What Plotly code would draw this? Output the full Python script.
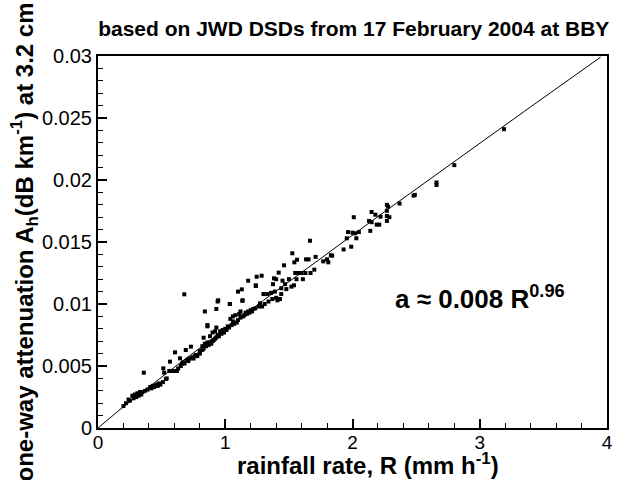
import plotly.graph_objects as go

# rainfall rate R (mm/h) and one-way attenuation A_h (dB/km)
rain_rate = [
    0.20, 0.22, 0.24, 0.25, 0.27, 0.28, 0.29, 0.30, 0.31, 0.32, 0.33, 0.34, 0.35, 0.36, 0.37,
    0.39, 0.41, 0.42, 0.43, 0.44, 0.45, 0.46, 0.47, 0.48, 0.49, 0.51, 0.513, 0.52, 0.534, 0.54,
    0.56, 0.566, 0.58, 0.60, 0.605, 0.62, 0.63, 0.644, 0.65, 0.66, 0.67, 0.678, 0.68, 0.69, 0.70,
    0.71, 0.72, 0.73, 0.74, 0.75, 0.76, 0.77, 0.78, 0.80, 0.80, 0.82, 0.83, 0.83, 0.84, 0.84,
    0.85, 0.86, 0.86, 0.87, 0.88, 0.89, 0.90, 0.90, 0.91, 0.92, 0.93, 0.93, 0.94, 0.94, 0.95,
    0.96, 0.97, 0.98, 0.99, 1.00, 1.01, 1.02, 1.03, 1.035, 1.04, 1.05, 1.06, 1.07, 1.08, 1.09,
    1.10, 1.10, 1.11, 1.12, 1.13, 1.134, 1.14, 1.15, 1.16, 1.17, 1.18, 1.18, 1.19, 1.20, 1.21,
    1.22, 1.236, 1.24, 1.247, 1.265, 1.273, 1.286, 1.29, 1.30, 1.31, 1.33, 1.34, 1.36, 1.37, 1.375,
    1.383, 1.39, 1.40, 1.40, 1.41, 1.42, 1.43, 1.44, 1.44, 1.45, 1.462, 1.47, 1.48, 1.50, 1.52,
    1.527, 1.54, 1.543, 1.55, 1.56, 1.564, 1.58, 1.60, 1.61, 1.63, 1.635, 1.655, 1.666, 1.67, 1.70,
    1.71, 1.77, 1.80, 1.81, 1.83, 1.84, 1.93, 1.955, 1.965, 1.99, 2.00, 2.01, 2.02, 2.03, 2.05,
    2.13, 2.14, 2.15, 2.15, 2.18, 2.19, 2.21, 2.22, 2.27, 2.27, 2.27, 2.27, 2.28, 2.29, 2.37,
    2.48, 2.49, 2.66, 2.66, 2.80, 3.19,
    0.945, 1.037, 1.137, 0.86, 0.93, 1.24, 0.82, 0.88, 0.92, 1.06, 1.12,
]
attenuation = [
    0.00177, 0.0020, 0.0023, 0.0022, 0.0026, 0.0024, 0.0027, 0.0025, 0.0028, 0.0026, 0.0029, 0.0027, 0.0029, 0.00446, 0.0030,
    0.0031, 0.0033, 0.0032, 0.0034, 0.0033, 0.0034, 0.0035, 0.0034, 0.0036, 0.0035, 0.0037, 0.00481, 0.00446, 0.00395, 0.0040,
    0.0046, 0.00535, 0.0046, 0.0046, 0.0061, 0.0046, 0.0048, 0.00562, 0.0050, 0.0052, 0.0053, 0.01078, 0.0052, 0.00629, 0.0055,
    0.0054, 0.0056, 0.00656, 0.0057, 0.0056, 0.0058, 0.0059, 0.0058, 0.0062, 0.0060, 0.0066, 0.00728, 0.0064, 0.0068, 0.0094,
    0.0066, 0.0083, 0.0069, 0.0067, 0.0069, 0.0068, 0.0070, 0.0077, 0.0071, 0.0072, 0.0096, 0.0073, 0.0102, 0.0075, 0.0074,
    0.0078, 0.0076, 0.0079, 0.0077, 0.0080, 0.0079, 0.0082, 0.0081, 0.0100, 0.0088, 0.0083, 0.0090, 0.0084, 0.0091, 0.0085,
    0.0110, 0.0087, 0.0092, 0.0089, 0.01118, 0.01026, 0.0090, 0.0091, 0.0093, 0.0092, 0.01188, 0.0094, 0.0093, 0.0095, 0.0094,
    0.0096, 0.00965, 0.01151, 0.0122, 0.0098, 0.01005, 0.01228, 0.0098, 0.0108, 0.0100, 0.0108, 0.0102, 0.0109, 0.0104, 0.0116,
    0.01207, 0.0110, 0.0120, 0.0105, 0.0103, 0.01253, 0.0104, 0.01127, 0.0108, 0.01188, 0.01312, 0.0116, 0.0112, 0.0120, 0.0114,
    0.01409, 0.01151, 0.01336, 0.0125, 0.0120, 0.01357, 0.0125, 0.0125, 0.0120, 0.0125, 0.0136, 0.0136, 0.0151, 0.0125, 0.01277,
    0.0138, 0.01344, 0.0136, 0.01336, 0.01393, 0.0139, 0.0144, 0.0153, 0.0158, 0.01462, 0.01575, 0.0170, 0.0157, 0.0153, 0.0158,
    0.0167, 0.0159, 0.0166, 0.01742, 0.0172, 0.0164, 0.0164, 0.01704, 0.0171, 0.0180, 0.0167, 0.01752, 0.01785, 0.0170, 0.0181,
    0.01874, 0.0188, 0.0198, 0.0196, 0.0212, 0.0241,
    0.0103, 0.0100, 0.0103, 0.0082, 0.0081, 0.01145, 0.0063, 0.0074, 0.0078, 0.0086, 0.0094,
]

# fitted relation a = 0.008 R^0.96 (shown in the chart)
fit_coef = 0.008
fit_exp = 0.96
fit_r = [i * 0.05 for i in range(0, 80)]
fit_a = [fit_coef * r ** fit_exp for r in fit_r]

x_ticks = [0, 1, 2, 3, 4]
y_ticks = [0, 0.005, 0.01, 0.015, 0.02, 0.025, 0.03]
y_tick_text = ["0", "0.005", "0.01", "0.015", "0.02", "0.025", "0.03"]

FONT = "Liberation Sans, Arial, Helvetica, sans-serif"

fig = go.Figure()
fig.add_trace(go.Scatter(x=fit_r, y=fit_a, mode="lines",
                         line=dict(color="black", width=1), showlegend=False, hoverinfo="skip"))
fig.add_trace(go.Scatter(x=rain_rate, y=attenuation, mode="markers",
                         marker=dict(symbol="square", size=4, color="black", line=dict(width=0)),
                         showlegend=False))

fig.update_layout(
    width=625, height=480,
    margin=dict(l=98, r=18, t=56, b=52),
    paper_bgcolor="white", plot_bgcolor="white",
    font=dict(family=FONT, color="black"),
    title=dict(text="<b>based on JWD DSDs from 17 February 2004 at BBY</b>",
               x=0.566, xanchor="center", y=0.94, yanchor="middle",
               font=dict(size=21, family=FONT, color="black")),
    xaxis=dict(range=[0, 4], tickvals=x_ticks, ticktext=[str(v) for v in x_ticks],
               ticks="inside", ticklen=9, tickwidth=2, tickcolor="black",
               minor=dict(dtick=0.2, ticks="inside", ticklen=5, tickwidth=1, tickcolor="black"),
               showline=True, linecolor="black", linewidth=2, mirror=True,
               showgrid=False, zeroline=False, ticklabelstandoff=-4,
               tickfont=dict(size=19, family=FONT)),
    yaxis=dict(range=[0, 0.03], tickvals=y_ticks, ticktext=y_tick_text,
               ticks="inside", ticklen=9, tickwidth=2, tickcolor="black",
               minor=dict(dtick=0.001, ticks="inside", ticklen=5, tickwidth=1, tickcolor="black"),
               showline=True, linecolor="black", linewidth=2, mirror=True,
               showgrid=False, zeroline=False,
               tickfont=dict(size=20, family=FONT),
               title=dict(text="<b>one-way attenuation A<sub>h</sub>(dB km<sup>-1</sup>) at 3.2 cm</b>",
                          standoff=2, font=dict(size=24, family=FONT))),
    annotations=[
        dict(x=3.0, y=0.01056, xref="x", yref="y",
             text="<b>a ≈ 0.008 R<sup>0.96</sup></b>", showarrow=False,
             font=dict(size=26, family=FONT, color="black")),
        dict(x=0.531, y=-0.097, xref="paper", yref="paper", xanchor="center", yanchor="middle",
             text="<b>rainfall rate, R (mm h<sup>-1</sup>)</b>", showarrow=False,
             font=dict(size=24, family=FONT, color="black")),
    ],
)

fig.write_html("out.html")
